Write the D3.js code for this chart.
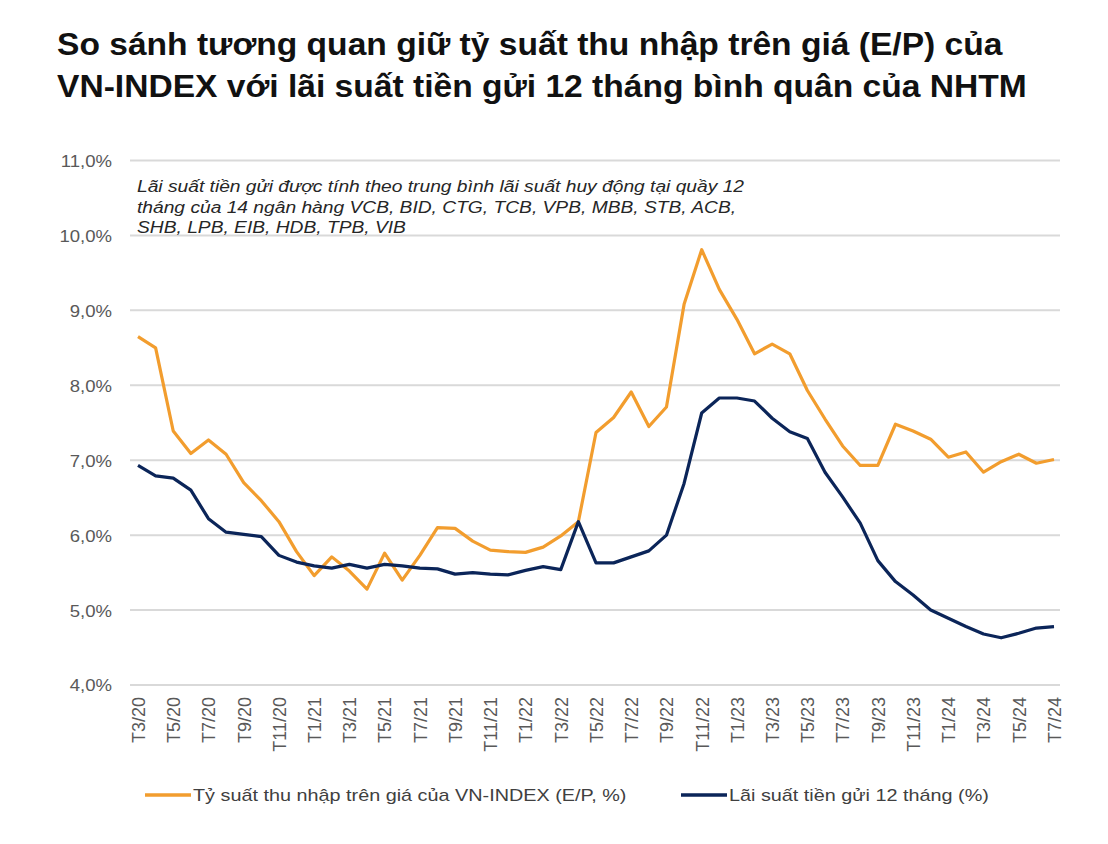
<!DOCTYPE html>
<html>
<head>
<meta charset="utf-8">
<script src="https://cdn.jsdelivr.net/npm/d3@7"></script>
<style>
  html, body { margin: 0; padding: 0; background: #ffffff; }
  svg { display: block; }
</style>
</head>
<body>
<svg id="chart" width="1108" height="844"></svg>
<script>
// ---- Data ----
const months = [
  "T3/20","T4/20","T5/20","T6/20","T7/20","T8/20","T9/20","T10/20","T11/20","T12/20",
  "T1/21","T2/21","T3/21","T4/21","T5/21","T6/21","T7/21","T8/21","T9/21","T10/21","T11/21","T12/21",
  "T1/22","T2/22","T3/22","T4/22","T5/22","T6/22","T7/22","T8/22","T9/22","T10/22","T11/22","T12/22",
  "T1/23","T2/23","T3/23","T4/23","T5/23","T6/23","T7/23","T8/23","T9/23","T10/23","T11/23","T12/23",
  "T1/24","T2/24","T3/24","T4/24","T5/24","T6/24","T7/24"
];
const epValues = [
  8.65, 8.50, 7.39, 7.09, 7.27, 7.08, 6.70, 6.46, 6.18, 5.78,
  5.46, 5.71, 5.52, 5.28, 5.76, 5.40, 5.73, 6.10, 6.09, 5.92, 5.80, 5.78,
  5.77, 5.84, 5.99, 6.18, 7.37, 7.57, 7.91, 7.45, 7.71, 9.08, 9.81, 9.28,
  8.88, 8.42, 8.55, 8.42, 7.93, 7.55, 7.19, 6.93, 6.93, 7.48, 7.39, 7.28,
  7.04, 7.11, 6.84, 6.98, 7.08, 6.96, 7.01
];
const depositValues = [
  6.93, 6.79, 6.76, 6.60, 6.22, 6.04, 6.01, 5.98, 5.73, 5.64,
  5.59, 5.56, 5.61, 5.56, 5.61, 5.59, 5.56, 5.55, 5.48, 5.50, 5.48, 5.47,
  5.53, 5.58, 5.54, 6.18, 5.63, 5.63, 5.71, 5.79, 6.00, 6.69, 7.63, 7.83,
  7.83, 7.79, 7.56, 7.38, 7.29, 6.84, 6.51, 6.16, 5.66, 5.38, 5.20, 5.00,
  4.89, 4.78, 4.68, 4.63, 4.69, 4.76, 4.78
];
const yTicks = [4, 5, 6, 7, 8, 9, 10, 11];
const xTickLabels = months.filter((m, i) => i % 2 === 0);

const titleLines = [
  "So sánh tương quan giữ tỷ suất thu nhập trên giá (E/P) của",
  "VN-INDEX với lãi suất tiền gửi 12 tháng bình quân của NHTM"
];
const noteLines = [
  "Lãi suất tiền gửi được tính theo trung bình lãi suất huy động tại quầy 12",
  "tháng của 14 ngân hàng VCB, BID, CTG, TCB, VPB, MBB, STB, ACB,",
  "SHB, LPB, EIB, HDB, TPB, VIB"
];
const seriesNames = [
  "Tỷ suất thu nhập trên giá của VN-INDEX (E/P, %)",
  "Lãi suất tiền gửi 12 tháng (%)"
];
const seriesColors = ["#F29D2E", "#0B2559"];

// ---- Layout ----
const svg = d3.select("#chart");
const font = "'Liberation Sans', Arial, Helvetica, sans-serif";
const gridLeft = 130, gridRight = 1060;

const x = d3.scalePoint().domain(months).range([138, 1054]);
const y = d3.scaleLinear().domain([4, 11]).range([685, 160.5]);

function stretch(sel, factor) {
  sel.each(function () {
    const w = this.getComputedTextLength();
    d3.select(this).attr("textLength", w * factor).attr("lengthAdjust", "spacingAndGlyphs");
  });
}

// Title
const titleSel = svg.append("g").selectAll("text").data(titleLines).join("text")
  .attr("x", 57)
  .attr("y", (d, i) => 55 + i * 42)
  .attr("font-family", font)
  .attr("font-weight", "bold")
  .attr("font-size", 31)
  .attr("fill", "#111111")
  .text(d => d);
stretch(titleSel, 1.083);

// Gridlines
svg.append("g").selectAll("line").data(yTicks).join("line")
  .attr("x1", gridLeft).attr("x2", gridRight)
  .attr("y1", d => y(d)).attr("y2", d => y(d))
  .attr("stroke", "#d9d9d9").attr("stroke-width", 2);

// Y axis
const yAxis = d3.axisLeft(y).tickValues(yTicks).tickSize(0).tickPadding(0)
  .tickFormat(d => d3.format(".1f")(d).replace(".", ",") + "%");
const yG = svg.append("g").attr("transform", "translate(112,0)").call(yAxis);
yG.select(".domain").remove();
const yTxt = yG.selectAll("text").attr("font-family", font).attr("font-size", 17)
  .attr("fill", "#595959").attr("dy", "0.35em");
stretch(yTxt, 1.09);

// X axis
const xAxis = d3.axisBottom(x).tickValues(xTickLabels).tickSize(0).tickPadding(0);
const xG = svg.append("g").attr("transform", "translate(0,697)").call(xAxis);
xG.select(".domain").remove();
xG.selectAll("text")
  .attr("font-family", font).attr("font-size", 18).attr("fill", "#595959")
  .attr("text-anchor", "end")
  .attr("transform", "rotate(-90)")
  .attr("x", 0).attr("y", 0).attr("dy", "0.35em");

// Note (italic)
const noteSel = svg.append("g").selectAll("text").data(noteLines).join("text")
  .attr("x", 137)
  .attr("y", (d, i) => 192 + i * 20.7)
  .attr("font-family", font)
  .attr("font-style", "italic")
  .attr("font-size", 16)
  .attr("fill", "#262626")
  .text(d => d);
stretch(noteSel, 1.2);

// Lines
const line = d3.line().x((d, i) => x(months[i])).y(d => y(d));
svg.append("path").datum(epValues)
  .attr("d", line).attr("fill", "none")
  .attr("stroke", seriesColors[0]).attr("stroke-width", 3.2)
  .attr("stroke-linejoin", "round");
svg.append("path").datum(depositValues)
  .attr("d", line).attr("fill", "none")
  .attr("stroke", seriesColors[1]).attr("stroke-width", 3.2)
  .attr("stroke-linejoin", "round");

// Legend
const legendX = [145, 681];
const leg = svg.append("g").selectAll("g").data(seriesNames).join("g")
  .attr("transform", (d, i) => `translate(${legendX[i]},795)`);
leg.append("line").attr("x1", 0).attr("x2", 46).attr("y1", 0).attr("y2", 0)
  .attr("stroke", (d, i) => seriesColors[i]).attr("stroke-width", 3.5);
const legTxt = leg.append("text").attr("x", 48).attr("y", 0).attr("dy", "0.35em")
  .attr("font-family", font).attr("font-size", 17).attr("fill", "#404040")
  .text(d => d);
stretch(legTxt, 1.165);
</script>
</body>
</html>
